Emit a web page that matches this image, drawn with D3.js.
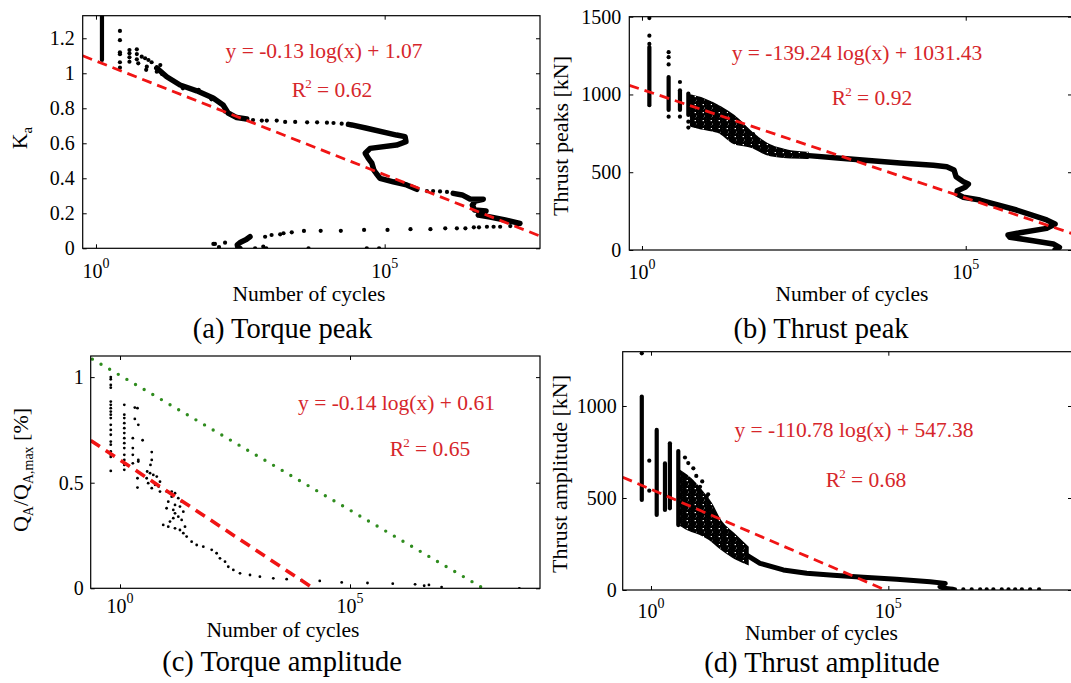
<!DOCTYPE html>
<html>
<head>
<meta charset="utf-8">
<script src="https://cdn.jsdelivr.net/npm/d3@7"></script>
<style>
    body { margin: 0; background: #fff; }
    svg { display: block; }
    svg text { font-family: "Liberation Serif", "DejaVu Serif", serif; }
</style>
</head>
<body>
<svg id="chart" width="1071" height="683"></svg>
<script>
// ---------- (a) Torque peak ----------
const aXLimits = [0.589, 4.9e7];
const aYLimits = [0, 1.329];
const aYTicks = [0, 0.2, 0.4, 0.6, 0.8, 1, 1.2];
const aColumns = [[1.27, 1.076, 1.35]];
const aDots = [
    [2.6, 1.242], [2.6, 1.189], [2.6, 1.12], [2.6, 1.109], [2.6, 1.063], [2.6, 1.032],
    [3.8, 1.133], [3.8, 1.114], [3.8, 1.091], [3.8, 1.066], [5.1, 1.137], [5.1, 1.11],
    [5.1, 1.08], [5.4, 1.057], [6.2, 1.095], [7.1, 1.086], [8.1, 1.076], [7.6, 1.038],
    [9.2, 1.063], [7.4, 1.02], [11.3, 1.009], [13, 1.047], [14, 0.995], [19, 0.97],
    [32, 0.914], [60, 0.905], [100, 0.851], [140, 0.829], [170, 0.781],
    [525, 0.733], [745, 0.73], [910, 0.73], [1350, 0.73], [1890, 0.722], [2820, 0.722],
    [4540, 0.72], [6760, 0.72], [1.0e4, 0.718], [1.3e4, 0.716], [1.8e4, 0.712],
    [5.4e5, 0.327], [6.9e5, 0.327], [9.1e5, 0.325], [1.2e6, 0.322],
    [1.95e7, 0.13], [1.5e7, 0.127], [1.0e7, 0.123], [7.7e6, 0.123], [5.9e6, 0.123],
    [4.3e6, 0.12], [3.5e6, 0.12], [2.5e6, 0.114], [1.78e6, 0.114], [1.12e6, 0.114],
    [6.2e5, 0.109], [2.8e5, 0.109], [1.12e5, 0.105], [4.4e4, 0.105], [1.74e4, 0.1],
    [7.8e3, 0.1], [4.0e3, 0.099], [2.46e3, 0.091], [1.77e3, 0.086], [1.55e3, 0.08],
    [1.1e3, 0.076], [850, 0.066], [172, 0.032], [108, 0.025], [115, 0.025], [135, 0.007],
    [790, 0.009], [570, 0], [890, 0], [4.8e3, 0], [4.9e4, 0], [8.0e4, 0]
];
const aTraces = [
    [[11.3, 1.03], [16.8, 0.98], [28.6, 0.933], [55.6, 0.9], [107, 0.859], [159, 0.819],
     [194, 0.773], [274, 0.747], [409, 0.739]],
    [[2.36e4, 0.708], [2.68e4, 0.705], [4.9e4, 0.686], [1.61e5, 0.647], [2.25e5, 0.638],
     [2.34e5, 0.609], [1.61e5, 0.59], [5.6e4, 0.571], [4.6e4, 0.543], [5.2e4, 0.514],
     [6.0e4, 0.486], [6.5e4, 0.447], [7.1e4, 0.429], [8.3e4, 0.4], [1.41e5, 0.38],
     [2.4e5, 0.362], [3.6e5, 0.337]],
    [[1.54e6, 0.314], [2.2e6, 0.305], [3.0e6, 0.282], [5.1e6, 0.28], [3.7e6, 0.27],
     [3.3e6, 0.247], [3.6e6, 0.219], [5.7e6, 0.213], [4.5e6, 0.202], [4.2e6, 0.19],
     [6.7e6, 0.179], [1.22e7, 0.162], [2.2e7, 0.142]],
    [[465, 0.066], [400, 0.05], [320, 0.035], [280, 0.02], [285, 0.008], [310, 0.0]]
];
const aFit = [[0.589, 1.10], [4.9e7, 0.07]];

// ---------- (b) Thrust peak ----------
const bXLimits = [0.637, 4.38e6];
const bYLimits = [0, 1500];
const bYTicks = [0, 500, 1000, 1500];
const bColumns = [[1.3, 931, 1305], [2.58, 900, 1112], [3.86, 900, 1027], [5.2, 868, 1006]];
const bDots = [
    [1.3, 1491], [1.3, 1378], [1.3, 1325], [2.58, 1272], [2.58, 1240], [2.58, 1193],
    [2.58, 857], [3.86, 1080], [3.86, 857], [5.2, 825], [5.2, 787], [16, 905], [52, 745]
];
const bCloudX = [5.9, 8.9, 16, 25.7, 52, 84, 172, 350];
const bCloudHi = [985, 964, 913, 857, 740, 676, 634, 619];
const bCloudLo = [804, 785, 761, 697, 666, 623, 602, 598];
const bTrace = [
    [300, 610], [1630, 585], [9.7e3, 560], [3.16e4, 545], [5.1e4, 535], [6.6e4, 514],
    [7.1e4, 471], [9.2e4, 439], [1.1e5, 424], [9.8e4, 403], [7.4e4, 381], [7.3e4, 360],
    [9.2e4, 339], [1.66e5, 321], [6.1e5, 257], [1.78e6, 193], [2.4e6, 167], [1.78e6, 139],
    [6.9e5, 111], [4.5e5, 96], [4.8e5, 82], [1.1e6, 60], [2.25e6, 39], [2.8e6, 17], [2.4e6, 2]
];
const bFit = [[0.637, 1059], [4.38e6, 106]];

// ---------- (c) Torque amplitude ----------
const cXLimits = [0.2307, 1.35e9];
const cYLimits = [0, 1.1];
const cYTicks = [0, 0.5, 1];
const cCol1 = 0.63;
const cCol1Vals = [1.0, 0.99, 0.963, 0.95, 0.884, 0.869, 0.853, 0.837, 0.822, 0.806, 0.774,
    0.75, 0.727, 0.695, 0.68, 0.648, 0.632, 0.622, 0.556];
const cCol2 = 1.24;
const cCol2Vals = [0.869, 0.822, 0.806, 0.782, 0.758, 0.735, 0.711, 0.687, 0.664, 0.632,
    0.608, 0.584, 0.561];
const cDots = [
    [2.1, 0.856], [2.4, 0.853], [2.1, 0.802], [2.5, 0.774], [1.9, 0.711], [1.9, 0.664],
    [1.9, 0.632], [1.9, 0.592], [2.5, 0.608], [2.5, 0.6], [3.1, 0.701], [2.4, 0.521],
    [2.4, 0.477], [4.9, 0.645], [4.9, 0.608], [4.6, 0.584], [3.9, 0.553], [4.5, 0.545],
    [5.3, 0.537], [3.8, 0.521], [6.3, 0.529], [7.4, 0.505], [4.1, 0.498], [5.8, 0.49],
    [6.9, 0.482], [4.9, 0.474], [7.4, 0.458],
    [10.3, 0.458], [13.3, 0.458], [15.7, 0.45], [13.3, 0.434], [18.5, 0.427], [21.9, 0.41],
    [11.2, 0.41], [15.7, 0.395], [20.1, 0.387], [10.3, 0.379], [14.4, 0.371], [23.8, 0.363],
    [15.7, 0.355], [18.5, 0.339], [14.4, 0.332], [21.9, 0.324], [12.2, 0.316], [8.7, 0.3],
    [11.2, 0.292], [15.7, 0.284], [25.9, 0.292], [20.1, 0.276], [23.8, 0.261], [28.1, 0.245],
    [36.1, 0.221], [46.5, 0.205], [64.7, 0.197], [98.4, 0.182], [126, 0.166], [149, 0.142],
    [192, 0.126], [226, 0.102], [291, 0.087], [406, 0.071], [670, 0.063], [1100, 0.055],
    [2150, 0.047], [4200, 0.043], [8900, 0.039], [2.2e4, 0.035], [6.6e4, 0.028],
    [2.4e5, 0.025], [8.5e5, 0.022], [2.6e6, 0.019], [4.1e6, 0.012], [5.2e6, 0.016],
    [9.8e6, 0.006], [4.8e8, 0.0]
];
const cFit = [[0.2307, 0.70], [1.6e4, 0]];
const cBound = [[0.251, 1.085], [7.9e7, 0]];

// ---------- (d) Thrust amplitude ----------
const dXLimits = [0.2535, 7.4e8];
const dYLimits = [0, 1295];
const dYTicks = [0, 500, 1000];
const dColumns = [[0.64, 489, 1051], [1.32, 408, 870], [1.97, 435, 688], [2.5, 444, 797], [3.76, 353, 755]];
const dDots = [
    [0.64, 1286], [0.92, 703], [0.92, 540], [7.8, 661], [10.8, 561], [14.9, 507], [19, 417],
    [5.2, 720], [6.1, 690], [9.0, 620], [12, 590], [16, 520],
    [2.54e6, 4], [3.8e6, 4], [5.7e6, 4], [8.6e6, 4], [1.18e7, 4], [1.63e7, 4], [2.45e7, 4],
    [3.4e7, 4], [4.7e7, 4], [6.5e7, 4], [9.7e7, 4], [1.5e8, 4]
];
const dCloudX = [4.1, 6.6, 10.8, 17.5, 28.4, 54, 104];
const dCloudHi = [640, 600, 540, 470, 370, 300, 230];
const dCloudLo = [360, 330, 310, 280, 235, 185, 150];
const dTrace = [
    [104, 190], [198, 145], [613, 109], [1910, 91], [6.9e3, 80], [2.97e4, 69], [1.5e5, 58],
    [7.6e5, 45], [1.58e6, 36], [1.3e6, 28], [1.23e6, 18], [1.5e6, 10], [2.0e6, 6], [2.3e6, 4]
];
const dFit = [[0.2535, 613], [8.7e4, 0]];

const xTickValues = [1, 1e5];

const FONT = '"Liberation Serif", "DejaVu Serif", serif';
const RED = '#f01414';
const RED_TEXT = '#d6262b';
const GREEN = '#2f8c1e';

const svg = d3.select('#chart');
const defs = svg.append('defs');

// irregular dot texture used for the very dense parts of the scatter
const dotPattern = defs.append('pattern')
    .attr('id', 'dense-dots')
    .attr('patternUnits', 'userSpaceOnUse')
    .attr('width', 8)
    .attr('height', 8);
[[1, 1.5], [4.5, 0.8], [6.8, 3.2], [2.6, 4.4], [5.2, 5.8], [0.8, 6.9], [7.6, 7.4], [3.8, 7.9], [4.4, 3.0]]
    .forEach(p => {
        dotPattern.append('circle')
            .attr('cx', p[0]).attr('cy', p[1]).attr('r', 2.15).attr('fill', '#000');
    });

function addText(parent, x, y, size, str) {
    return parent.append('text')
        .attr('x', x)
        .attr('y', y)
        .style('font-family', FONT)
        .style('font-size', `${size}px`)
        .text(str);
}

/**
 * Draw one sub-figure: box, ticks, labels and the marks given in opts
 */
function drawPanel(opts) {
    const {
        id, frame, xLimits, yLimits, yTicks, yFormat = d => String(d),
        tickLabelY, yLabelPos, xLabelPos, caption, eq, r2
    } = opts;

    const x = d3.scaleLog().domain(xLimits).range([frame.left, frame.right]);
    const y = d3.scaleLinear().domain(yLimits).range([frame.bottom, frame.top]);

    defs.append('clipPath')
        .attr('id', `clip-${id}`)
        .append('rect')
        .attr('x', frame.left)
        .attr('y', frame.top)
        .attr('width', frame.right - frame.left)
        .attr('height', frame.bottom - frame.top);

    const g = svg.append('g').attr('class', `panel panel-${id}`);
    const plot = g.append('g').attr('clip-path', `url(#clip-${id})`);

    // dense columns of points, drawn as round-capped strokes
    (opts.columns || []).forEach(c => {
        plot.append('line')
            .attr('x1', x(c[0])).attr('x2', x(c[0]))
            .attr('y1', y(c[1])).attr('y2', y(c[2]))
            .attr('stroke', '#000')
            .attr('stroke-width', opts.colWidth || 4.2)
            .attr('stroke-linecap', 'round');
    });

    // dense clouds
    if (opts.cloud) {
        const area = d3.area()
            .x(d => x(d[0]))
            .y0(d => y(d[1]))
            .y1(d => y(d[2]))
            .curve(d3.curveMonotoneX);
        plot.append('path')
            .datum(opts.cloud)
            .attr('d', area)
            .attr('fill', 'url(#dense-dots)')
            .attr('stroke', 'url(#dense-dots)')
            .attr('stroke-width', 4);
    }

    // dense traces
    const line = d3.line().x(d => x(d[0])).y(d => y(d[1]));
    (opts.traces || []).forEach(t => {
        plot.append('path')
            .attr('d', line(t))
            .attr('fill', 'none')
            .attr('stroke', '#000')
            .attr('stroke-width', opts.traceWidth || 5)
            .attr('stroke-linejoin', 'round')
            .attr('stroke-linecap', 'round');
    });

    // single points
    plot.selectAll('circle.dot')
        .data(opts.dots || [])
        .enter()
        .append('circle')
        .attr('class', 'dot')
        .attr('cx', d => x(d[0]))
        .attr('cy', d => y(d[1]))
        .attr('r', opts.dotR || 2.1)
        .attr('fill', '#000');

    // reference lines
    if (opts.bound) {
        plot.append('path')
            .attr('d', line(opts.bound))
            .attr('fill', 'none')
            .attr('stroke', GREEN)
            .attr('stroke-width', 3.4)
            .attr('stroke-linecap', 'round')
            .attr('stroke-dasharray', '0,10');
    }
    plot.append('path')
        .attr('d', line(opts.fit))
        .attr('fill', 'none')
        .attr('stroke', RED)
        .attr('stroke-width', opts.fitWidth || 2.8)
        .attr('stroke-dasharray', opts.fitDash || '10,6');

    // ticks on all four sides, pointing inward
    const tickStyle = sel => {
        sel.select('.domain').remove();
        sel.selectAll('.tick line').attr('stroke', '#000').attr('stroke-width', 1);
    };
    g.append('g')
        .attr('transform', `translate(0,${frame.bottom})`)
        .call(d3.axisBottom(x).tickValues(xTickValues).tickSizeInner(-4).tickSizeOuter(0).tickFormat(''))
        .call(tickStyle);
    g.append('g')
        .attr('transform', `translate(0,${frame.top})`)
        .call(d3.axisTop(x).tickValues(xTickValues).tickSizeInner(-4).tickSizeOuter(0).tickFormat(''))
        .call(tickStyle);
    g.append('g')
        .attr('transform', `translate(${frame.left},0)`)
        .call(d3.axisLeft(y).tickValues(yTicks).tickSizeInner(-4).tickSizeOuter(0)
            .tickPadding(opts.yPad || 7).tickFormat(yFormat))
        .call(tickStyle)
        .call(a => a.selectAll('text')
            .attr('fill', '#000')
            .style('font-family', FONT)
            .style('font-size', '20px'));
    g.append('g')
        .attr('transform', `translate(${frame.right},0)`)
        .call(d3.axisRight(y).tickValues(yTicks).tickSizeInner(-4).tickSizeOuter(0).tickFormat(''))
        .call(tickStyle);

    // frame
    g.append('rect')
        .attr('x', frame.left)
        .attr('y', frame.top)
        .attr('width', frame.right - frame.left)
        .attr('height', frame.bottom - frame.top)
        .attr('fill', 'none')
        .attr('stroke', '#000')
        .attr('stroke-width', 1.2);

    // power-of-ten tick labels
    xTickValues.forEach(v => {
        const t = addText(g, x(v), tickLabelY, 20, null).attr('text-anchor', 'middle');
        t.append('tspan').text('10');
        t.append('tspan')
            .attr('dy', -10)
            .style('font-size', '14px')
            .text(Math.round(Math.log10(v)));
    });

    // axis labels
    addText(g, xLabelPos[0], xLabelPos[1], 21.5, 'Number of cycles')
        .attr('text-anchor', 'middle');

    const yl = addText(g, 0, 0, 22, null)
        .attr('transform', `translate(${yLabelPos[0]},${yLabelPos[1]}) rotate(-90)`)
        .attr('text-anchor', 'middle');
    opts.yLabel.forEach(part => {
        yl.append('tspan')
            .attr('dy', part.dy || 0)
            .style('font-size', part.size ? `${part.size}px` : null)
            .text(part.text);
    });

    // regression annotation
    addText(g, eq[0], eq[1], 21.5, eq[2])
        .attr('text-anchor', 'middle')
        .attr('fill', RED_TEXT);
    const rt = addText(g, r2[0], r2[1], 21.5, null)
        .attr('text-anchor', 'middle')
        .attr('fill', RED_TEXT);
    rt.append('tspan').text('R');
    rt.append('tspan').attr('dx', -1).attr('dy', -9).style('font-size', '13px').text('2');
    rt.append('tspan').attr('dy', 9).text(` = ${r2[2]}`);

    // caption
    addText(g, caption[0], caption[1], 28.5, caption[2])
        .attr('text-anchor', 'middle');
}

const zipCloud = (xs, hi, lo) => xs.map((v, i) => [v, lo[i], hi[i]]);

drawPanel({
    id: 'a',
    frame: { left: 82.7, right: 540, top: 15.7, bottom: 248.3 },
    xLimits: aXLimits, yLimits: aYLimits, yTicks: aYTicks, yPad: 8,
    columns: aColumns, dots: aDots, traces: aTraces, traceWidth: 5.5, fit: aFit,
    tickLabelY: 278, xLabelPos: [309, 301], yLabelPos: [27, 138],
    yLabel: [{ text: 'K' }, { text: 'a', size: 15, dy: 5 }],
    eq: [324, 58, 'y = -0.13 log(x) + 1.07'],
    r2: [332, 97, '0.62'],
    caption: [282.5, 338, '(a) Torque peak']
});

drawPanel({
    id: 'b',
    frame: { left: 629.3, right: 1072, top: 16.7, bottom: 250 },
    xLimits: bXLimits, yLimits: bYLimits, yTicks: bYTicks, yPad: 8,
    columns: bColumns, dots: bDots, traces: [bTrace], traceWidth: 5.5,
    cloud: zipCloud(bCloudX, bCloudHi, bCloudLo), fit: bFit,
    tickLabelY: 279, xLabelPos: [852, 301], yLabelPos: [568, 136],
    yLabel: [{ text: 'Thrust peaks [kN]' }],
    eq: [857, 60, 'y = -139.24 log(x) + 1031.43'],
    r2: [872, 105, '0.92'],
    caption: [821, 338, '(b) Thrust peak']
});

drawPanel({
    id: 'c',
    frame: { left: 90.7, right: 540, top: 356, bottom: 588.3 },
    xLimits: cXLimits, yLimits: cYLimits, yTicks: cYTicks, yPad: 7,
    dots: cCol1Vals.map(v => [cCol1, v])
        .concat(cCol2Vals.map(v => [cCol2, v]))
        .concat(cDots),
    dotR: 1.4, fit: cFit, bound: cBound, fitWidth: 3.6, fitDash: '11,7',
    tickLabelY: 613, xLabelPos: [283, 637], yLabelPos: [28, 470],
    yLabel: [
        { text: 'Q' }, { text: 'A', size: 14, dy: 5 }, { text: '/Q', dy: -5 },
        { text: 'A,max', size: 14, dy: 5 }, { text: ' [%]', dy: -5 }
    ],
    eq: [396.5, 410, 'y = -0.14 log(x) + 0.61'],
    r2: [430, 456, '0.65'],
    caption: [282, 671, '(c) Torque amplitude']
});

drawPanel({
    id: 'd',
    frame: { left: 622.7, right: 1072, top: 351.7, bottom: 590 },
    xLimits: dXLimits, yLimits: dYLimits, yTicks: dYTicks, yPad: 6,
    columns: dColumns, dots: dDots, traces: [dTrace],
    cloud: zipCloud(dCloudX, dCloudHi, dCloudLo), fit: dFit,
    tickLabelY: 618, xLabelPos: [821.5, 640], yLabelPos: [567, 474],
    yLabel: [{ text: 'Thrust amplitude [kN]' }],
    eq: [854, 437, 'y = -110.78 log(x) + 547.38'],
    r2: [866, 487, '0.68'],
    caption: [822, 672, '(d) Thrust amplitude']
});
</script>
</body>
</html>
